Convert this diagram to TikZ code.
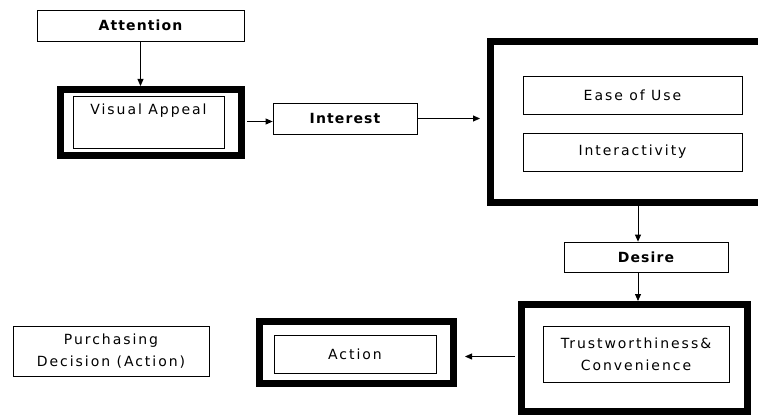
\documentclass[tikz,border=0pt]{standalone}
\usepackage{fontspec}
\usetikzlibrary{arrows.meta,positioning}
\newfontfamily\boxfont{DejaVu Sans}[LetterSpace=14]
\newfontfamily\headfont{DejaVu Sans}[LetterSpace=8]

\begin{document}
\begin{tikzpicture}[x=1pt, y=-1pt,
        box/.style = {draw, line width=0.8pt, inner sep=0pt, align=center,
                      font={\boxfont\fontsize{14}{22}\selectfont}},
        head/.style = {box, font={\headfont\bfseries\fontsize{14}{22}\selectfont}},
        frame/.style = {draw, line width=7pt, inner sep=0pt},
        arr/.style = {-{Triangle[length=7pt,width=6pt]}, line width=0.8pt}]
        \useasboundingbox (0,0) rectangle (758,417);
        \clip (0,0) rectangle (758,417);

        % attention
        \node[head, minimum width=207, minimum height=31] (attention) at (140.5, 25.5) {Attention};
        \node[frame, minimum width=181, minimum height=66] (visualframe) at (151, 122.5) {};
        \node[box, minimum width=151, minimum height=52] (visual) at (148.5, 122) {};
        \node[font={\boxfont\fontsize{14}{22}\selectfont}, inner sep=0pt] (visuallbl) at (148.5, 111) {Visual Appeal};

        % interest
        \node[head, minimum width=144, minimum height=31] (interest) at (345, 118.5) {Interest};
        \node[frame, minimum width=306, minimum height=161] (bigframe) at (643.5, 122) {};
        \node[box, minimum width=219, minimum height=38] (ease) at (632.5, 95) {Ease of Use};
        \node[box, minimum width=219, minimum height=38] (interact) at (632.5, 152) {Interactivity};

        % desire
        \node[head, minimum width=164, minimum height=30] (desire) at (646, 257) {Desire};
        \node[frame, minimum width=226, minimum height=107] (trustframe) at (634.5, 358) {};
        \node[box, minimum width=186, minimum height=56] (trust) at (636, 354) {Trustworthiness\&\\Convenience};

        % action
        \node[frame, minimum width=194, minimum height=62] (actionframe) at (356.5, 352.5) {};
        \node[box, minimum width=162, minimum height=38] (action) at (355, 354) {Action};
        \node[box, minimum width=196, minimum height=50] (purchase) at (111, 351) {Purchasing\\Decision (Action)};

        \draw[arr] (attention.south) -- (attention.south |- visualframe.north);
        \draw[arr, shorten <=2pt] ([yshift=-3pt]interest.west -| visualframe.east) -- ([yshift=-3pt]interest.west);
        \draw[arr, shorten >=7pt] (interest.east) -- (interest.east -| bigframe.west);
        \draw[arr] ([xshift=-8pt]desire.north |- bigframe.south) -- ([xshift=-8pt]desire.north);
        \draw[arr] ([xshift=-8pt]desire.south) -- ([xshift=-8pt]desire.south |- trustframe.north);
        \draw[arr, shorten <=3pt, shorten >=8pt] ([yshift=-4pt]actionframe.east -| trustframe.west) -- ([yshift=-4pt]actionframe.east);
    \end{tikzpicture}
\end{document}
